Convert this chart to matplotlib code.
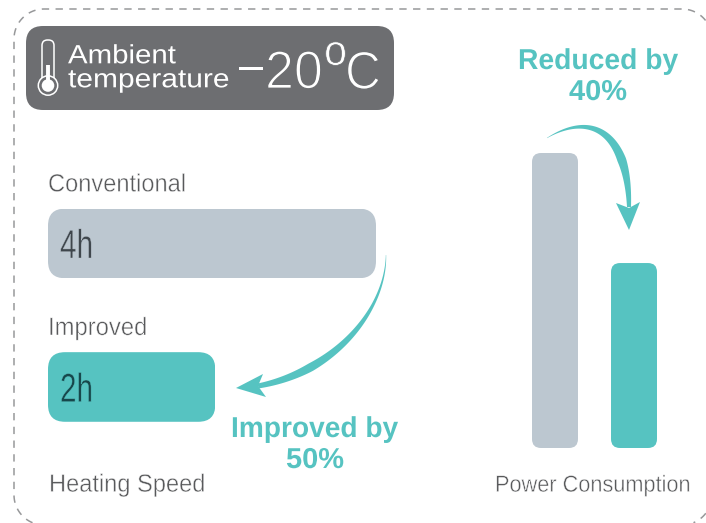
import numpy as np
import matplotlib
matplotlib.use("Agg")
import matplotlib.pyplot as plt
from matplotlib.patches import FancyBboxPatch, Polygon, Circle
from matplotlib.patheffects import AbstractPathEffect
from matplotlib.transforms import Affine2D

W, H = 706, 523
TEAL = "#56c3c1"
GREY = "#bcc7d0"
DARK = "#6d6e71"

heating_labels = ["Conventional", "Improved"]
heating_hours = [4.0, 2.04]
heating_text = ["4h", "2h"]
power_values = [100.0, 62.7]

fig = plt.figure(figsize=(W / 100, H / 100), dpi=100)


def px_axes(x0, y0, x1, y1, **kw):
    ax = fig.add_axes([x0 / W, 1 - y1 / H, (x1 - x0) / W, (y1 - y0) / H], **kw)
    ax.axis("off")
    return ax


base = px_axes(0, 0, W, H)
base.set_xlim(0, W)
base.set_ylim(H, 0)


def rounded(x0, y0, x1, y1, r, **kw):
    p = FancyBboxPatch((x0 + r, y0 + r), x1 - x0 - 2 * r, y1 - y0 - 2 * r,
                       boxstyle=f"round,pad={r},rounding_size={r}", **kw)
    base.add_patch(p)
    return p


def frame_runs(x0, y0, x1, y1, r):
    """Outline of the rounded frame, split into the runs inside the picture."""
    a = np.linspace(0, np.pi / 2, 25)
    pts = []
    pts += list(zip(x0 + r - r * np.cos(a), y1 - r + r * np.sin(a)))[::-1]      # bottom-left
    pts += list(zip(x0 + r - r * np.cos(a), y0 + r - r * np.sin(a)))            # top-left
    pts += list(zip(x1 - r + r * np.sin(a), y0 + r - r * np.cos(a)))            # top-right
    pts += list(zip(x1 - r + r * np.cos(a), y1 - r + r * np.sin(a)))            # bottom-right
    pts = np.array(pts)
    keep = (pts[:, 0] <= W) & (pts[:, 1] <= H)
    runs, cur = [], []
    for p, k in zip(pts, keep):
        if k:
            cur.append(p)
        elif cur:
            runs.append(np.array(cur))
            cur = []
    if cur:
        runs.append(np.array(cur))
    return runs


# dashed frame (runs off the right and bottom edges)
for run in frame_runs(14, 9, 712, 525, 30):
    base.plot(run[:, 0], run[:, 1], color="#97989a", lw=1.1, ls=(0, (4.8, 4.2)))

# header badge
rounded(26, 26, 394, 110, 17, fc=DARK, ec="none")

# heating speed bars (data scale: hours)
ax_h = px_axes(48, 209, 376, 422)
ax_h.set_xlim(0, 4)
ax_h.set_ylim(1.244, -0.24)
h_bars = ax_h.barh([0, 1], heating_hours, height=0.485, left=0,
                   color=[GREY, TEAL], edgecolor="none")

# power consumption bars (data scale: percent)
ax_p = px_axes(532, 153, 657, 448)
ax_p.set_xlim(-0.291, 1.291)
ax_p.set_ylim(0, 100)
p_bars = ax_p.bar([0, 1], power_values, width=0.582,
                  color=[GREY, TEAL], edgecolor="none")

# overlay for text and arrows
top = px_axes(0, 0, W, H)
top.set_xlim(0, W)
top.set_ylim(H, 0)

fig.canvas.draw()


def round_bar(bar, r):
    """Clip a library-drawn bar to a rounded rectangle of the same extent."""
    bb = bar.get_window_extent()
    x0, x1 = bb.x0, bb.x1
    y0, y1 = H - bb.y1, H - bb.y0
    clip = FancyBboxPatch((x0 + r, y0 + r), x1 - x0 - 2 * r, y1 - y0 - 2 * r,
                          boxstyle=f"round,pad={r},rounding_size={r}",
                          transform=base.transData)
    bar.set_clip_path(clip)


for b in h_bars:
    round_bar(b, 17)
for b in p_bars:
    round_bar(b, 9)


class XScale(AbstractPathEffect):
    """Stretch a text about its anchor; optionally thin it with a backdrop-coloured edge."""

    def __init__(self, anchor, sx, thin=0, backdrop="white"):
        super().__init__()
        self.anchor, self.sx, self.thin, self.backdrop = anchor, sx, thin, backdrop

    def draw_path(self, renderer, gc, tpath, affine, rgbFace=None):
        m = affine + Affine2D().translate(-self.anchor, 0).scale(self.sx, 1).translate(self.anchor, 0)
        renderer.draw_path(gc, tpath, m, rgbFace)
        if self.thin:
            g = renderer.new_gc()
            g.copy_properties(gc)
            g.set_foreground(self.backdrop)
            g.set_linewidth(self.thin)
            renderer.draw_path(g, tpath, m, None)
            g.restore()


def fit(x0, x1, baseline, s, thin=0, backdrop="white", **kw):
    """Baseline-anchored text squeezed or stretched to span x0..x1 in pixels."""
    t = top.text(x0, baseline, s, ha="left", va="baseline", **kw)
    bb = t.get_window_extent(fig.canvas.get_renderer())
    t.set_path_effects([XScale(x0, (x1 - x0) / bb.width, thin, backdrop)])
    return t


# thermometer icon
top.add_patch(FancyBboxPatch((47.5, 45.5), 1, 40, boxstyle="round,pad=5.5,rounding_size=5.5",
                             fc="none", ec="white", lw=1.1))
top.add_patch(Circle((48, 85.5), 9.7, fc=DARK, ec="white", lw=1.1, zorder=3))
top.add_patch(Circle((48, 85.5), 6.3, fc="white", ec="none", zorder=4))
top.plot([48, 48], [65, 82], color="white", lw=2.8, solid_capstyle="butt", zorder=5)

sans = dict(family="Liberation Sans")
fit(68, 176, 63.3, "Ambient", color="white", fontsize=19, **sans)
fit(68, 229.5, 87.3, "temperature", color="white", fontsize=19, **sans)
fit(237, 265, 84, "−", color="white", fontsize=33, **sans)
fit(265, 323, 88.3, "20", color="white", fontsize=38.5, thin=1.0, backdrop=DARK, **sans)
fit(324, 347, 65, "o", color="white", fontsize=31, thin=0.5, backdrop=DARK, **sans)
fit(345, 381, 88.8, "C", color="white", fontsize=38.5, thin=1.0, backdrop=DARK, **sans)

# text labels
lab = dict(color="#58595b", family="Liberation Sans", thin=0.35)
fit(48, 186, 191.5, heating_labels[0], fontsize=18, **lab)
fit(48, 147, 335, heating_labels[1], fontsize=18, **lab)
fit(49, 205, 491.7, "Heating Speed", fontsize=18, **lab)
fit(495, 690, 491.7, "Power Consumption", fontsize=16.7, **lab)

fit(60, 93, 258, heating_text[0], color="#3f464c", fontsize=29, family="Liberation Sans",
    thin=0.3, backdrop=GREY)
fit(60, 93, 401.7, heating_text[1], color="#17474b", fontsize=29, family="Liberation Sans",
    thin=0.3, backdrop=TEAL)

bold = dict(color=TEAL, family="Liberation Sans", weight="bold")
fit(518, 678, 69, "Reduced by", fontsize=20.7, **bold)
fit(569, 627, 100, "40%", fontsize=20.7, **bold)
fit(231, 398, 437, "Improved by", fontsize=20.7, **bold)
fit(286, 344, 468, "50%", fontsize=20.7, **bold)


def tapered(p0, p1, p2, p3, w_t, w_v, head):
    t = np.linspace(0, 1, 80)[:, None]
    P = [np.array(p, float) for p in (p0, p1, p2, p3)]
    c = (1 - t) ** 3 * P[0] + 3 * (1 - t) ** 2 * t * P[1] + 3 * (1 - t) * t ** 2 * P[2] + t ** 3 * P[3]
    d = 3 * (1 - t) ** 2 * (P[1] - P[0]) + 6 * (1 - t) * t * (P[2] - P[1]) + 3 * t ** 2 * (P[3] - P[2])
    n = np.c_[-d[:, 1], d[:, 0]] / np.linalg.norm(d, axis=1, keepdims=True)
    w = np.interp(t[:, 0], w_t, w_v)[:, None] / 2
    top.add_patch(Polygon(np.r_[c + n * w, (c - n * w)[::-1]], fc=TEAL, ec="none", zorder=7))
    top.add_patch(Polygon(head, fc=TEAL, ec="none", zorder=7))


tapered((386, 255), (386, 310), (335, 372), (258, 386),
        [0, 0.3, 0.75, 1], [0.3, 3.0, 8.5, 5],
        [(236, 388), (263, 374), (258, 386), (266, 397)])
tapered((547, 138), (590, 112), (628, 130), (629, 207),
        [0, 0.35, 0.75, 1], [0.3, 4.5, 9, 4],
        [(629, 230), (616, 203), (629, 208), (640, 202)])

fig.savefig("out.png", dpi=100)
